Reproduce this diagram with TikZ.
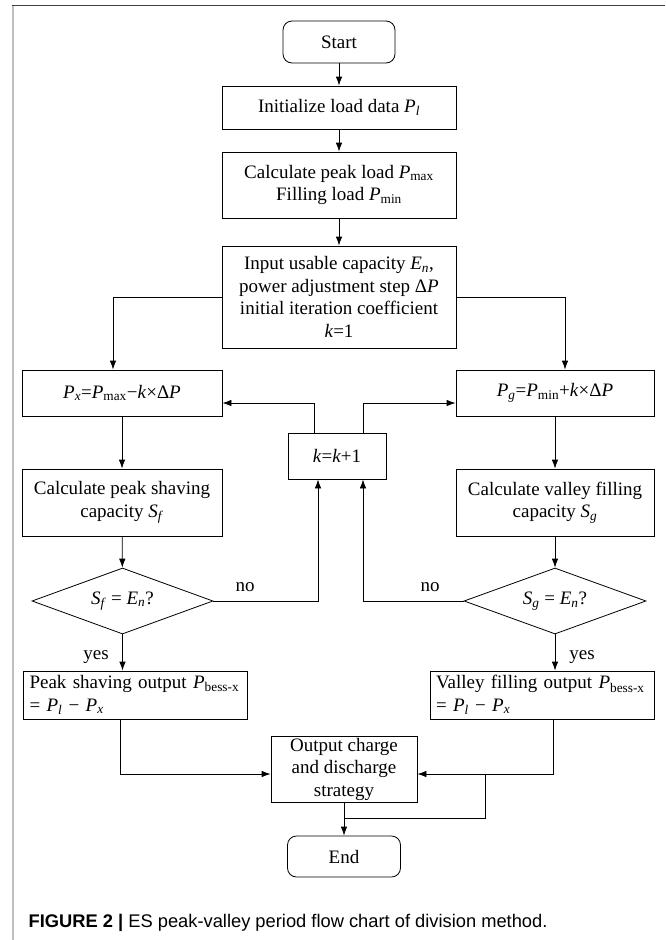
\documentclass[tikz,border=0pt]{standalone}
\usepackage{fontspec}
\setmainfont{Liberation Serif}
\newfontfamily\capfont{Liberation Sans}
\usepackage{tikz}
\usetikzlibrary{arrows.meta,positioning,shapes.geometric,calc}

\newcommand{\iv}[1]{\textit{#1}}
\newcommand{\Ps}[1]{\textit{P}\textsubscript{#1}}

\tikzset{
	box/.style={draw, line width=0.8pt, inner sep=0pt, align=center,
		font=\fontsize{19}{22.5}\selectfont},
	term/.style={box, rounded corners=9pt},
	decide/.style={box, diamond, aspect=2.75},
	outbox/.style={box, align=left, text width=212pt, minimum height=48pt},
	lbl/.style={font=\fontsize{19}{22.5}\selectfont, inner sep=0pt},
	arr/.style={line width=0.8pt, -{Latex[length=9pt,width=6.5pt]}},
	line/.style={line width=0.8pt}
}

\begin{document}
\begin{tikzpicture}[x=1pt,y=-1pt]
	\useasboundingbox (0,0) rectangle (665,940);

	% Frame
	\draw[black!25, line width=2pt] (12.7,5) -- (12.7,940);
	\draw[black!75, line width=1pt] (12,5) -- (665,5);

	% Main column
	\node[term, minimum width=112pt, minimum height=42pt] (start) at (339,42) {Start};
	\node[box, minimum width=234pt, minimum height=43pt] (init) at (339,107.5) {Initialize load data \Ps{\iv{l}}};
	\node[box, minimum width=234pt, minimum height=66pt] (peak) at (339,185) {Calculate peak load \Ps{max}\\Filling load \Ps{min}};
	\node[box, minimum width=234pt, minimum height=102pt] (input) at (339,297) {Input usable capacity \iv{E}\textsubscript{\iv{n}},\\power adjustment step Δ\iv{P}\\initial iteration coefficient\\\iv{k}=1};

	% Iteration
	\node[box, minimum width=200pt, minimum height=46pt] (px) at (122,393) {\Ps{\iv{x}}=\Ps{max}−\iv{k}×Δ\iv{P}};
	\node[box, minimum width=198pt, minimum height=46pt] (pg) at (555,393) {\Ps{\iv{g}}=\Ps{min}+\iv{k}×Δ\iv{P}};
	\node[box, minimum width=98pt, minimum height=46pt] (kstep) at (337,456) {\iv{k}=\iv{k}+1};
	\node[box, minimum width=200pt, minimum height=67pt] (shave) at (122,502.5) {Calculate peak shaving\\capacity \iv{S}\textsubscript{\iv{f}}};
	\node[box, minimum width=198pt, minimum height=67pt] (fill) at (555,502.5) {Calculate valley filling\\capacity \iv{S}\textsubscript{\iv{g}}};
	\node[decide, minimum width=181pt, minimum height=66pt] (dshave) at (122.5,601) {\iv{S}\textsubscript{\iv{f}} = \iv{E}\textsubscript{\iv{n}}?};
	\node[decide, minimum width=182pt, minimum height=66pt] (dfill) at (555,601) {\iv{S}\textsubscript{\iv{g}} = \iv{E}\textsubscript{\iv{n}}?};

	% Outputs
	\node[outbox, minimum width=224pt] (oshave) at (135.5,695) {Peak shaving output \Ps{bess-x}\\= \Ps{\iv{l}} − \Ps{\iv{x}}};
	\node[outbox, minimum width=224pt] (ofill) at (542,695) {Valley filling output \Ps{bess-x}\\= \Ps{\iv{l}} − \Ps{\iv{x}}};
	\node[box, minimum width=146pt, minimum height=66pt] (out) at (344,769) {Output charge\\and discharge\\strategy};
	\node[term, minimum width=113pt, minimum height=41pt] (stop) at (344,856.5) {End};

	% Labels
	\node[lbl] (noL) at (245,587) {no};
	\node[lbl] (noR) at (430,587) {no};
	\node[lbl] (yesL) at (96,657) {yes};
	\node[lbl] (yesR) at (582,657) {yes};

	% Turning points
	\coordinate (brL) at (113,297);
	\coordinate (brR) at (565,297);
	\coordinate (upL) at (314,403);
	\coordinate (upR) at (363,403);
	\coordinate (retL) at (318,601);
	\coordinate (retR) at (363,601);
	\coordinate (joinL) at (120,774);
	\coordinate (joinR) at (553,774);
	\coordinate (tap) at (485,774);
	\coordinate (tapD) at (485,818);

	% Connectors
	\draw[arr] (start) -- (init);
	\draw[arr] (init) -- (peak);
	\draw[arr] (peak) -- (input);
	\draw[arr] (input.west) -- (brL) -- (brL |- px.north);
	\draw[arr] (input.east) -- (brR) -- (brR |- pg.north);
	\draw[arr] (upL |- kstep.north) -- (upL) -- (upL -| px.east);
	\draw[arr] (upR |- kstep.north) -- (upR) -- (upR -| pg.west);
	\draw[arr] (px) -- (shave);
	\draw[arr] (pg) -- (fill);
	\draw[arr] (shave) -- (dshave);
	\draw[arr] (fill) -- (dfill);
	\draw[arr] (dshave.east) -- (retL) -- (retL |- kstep.south);
	\draw[arr] (dfill.west) -- (retR) -- (retR |- kstep.south);
	\draw[arr] (dshave.south) -- (dshave.south |- oshave.north);
	\draw[arr] (dfill.south) -- (dfill.south |- ofill.north);
	\draw[arr] (joinL |- oshave.south) -- (joinL) -- (joinL -| out.west);
	\draw[arr] (joinR |- ofill.south) -- (joinR) -- (joinR -| out.east);
	\draw[line] (tap) -- (tapD) -- (tapD -| out.south);
	\draw[arr] (out) -- (stop);

	% Caption
	\node[anchor=west, inner sep=0pt, font=\capfont\fontsize{18.3}{22}\selectfont] (caption) at (28.5,923)
		{\textbf{FIGURE 2 |} ES peak-valley period flow chart of division method.};
\end{tikzpicture}
\end{document}
